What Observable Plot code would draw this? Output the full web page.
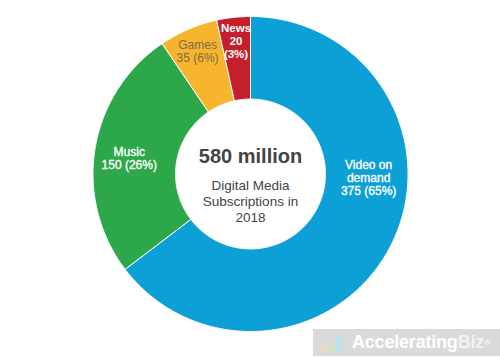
<!DOCTYPE html>
<html>
<head>
<meta charset="utf-8">
<script src="https://cdn.jsdelivr.net/npm/d3@7"></script>
<script src="https://cdn.jsdelivr.net/npm/@observablehq/plot@0.6"></script>
<style>
  html, body { margin: 0; padding: 0; background: #fff; }
  #chart { position: relative; width: 500px; height: 357px; overflow: hidden;
           font-family: "Liberation Sans", Arial, Helvetica, sans-serif; }
  #chart svg { display: block; }
  .brand { position: absolute; left: 313px; top: 329px; width: 187px; height: 27px;
           background: #dadada; display: flex; align-items: center; box-sizing: border-box;
           padding-left: 9px; color: #fff; font-weight: bold; font-size: 18px; letter-spacing: -0.2px; }
  .brand .icon { position: relative; width: 24px; height: 17px; margin-right: 6px; }
  .brand .icon span { position: absolute; bottom: 0; width: 6px; }
  .brand .biz { color: rgba(255,255,255,0.7); }
  .brand sup { font-size: 8px; font-weight: normal; vertical-align: 9px; margin-left: 1px; }
</style>
</head>
<body>
<div id="chart"></div>
<script>
// Digital media subscriptions in 2018, millions
const categories = ["Video on demand", "Music", "Games", "News"];
const labelNames = ["Video on\ndemand", "Music", "Games", "News"];
const subscriptions = [375, 150, 35, 20];
const sliceColors = ["#0ca0d6", "#2ca84a", "#f7b52e", "#c41f2b"];
const labelColors = ["#ffffff", "#ffffff", "#7a6b4b", "#ffffff"];
const centerUnit = "million";
const centerSubtitle = "Digital Media\nSubscriptions in\n2018";

const total = d3.sum(subscriptions);
const slices = categories.map((name, i) => ({name, value: subscriptions[i], i}));
const arcs = d3.pie().sort(null).value(d => d.value)(slices);

// Donut geometry in unit-circle coordinates (outer radius = 1)
const RO = 1, RI = 0.476;
const pt = (name, a, r) => ({slice: name, x: Math.sin(a) * r, y: Math.cos(a) * r});

const ring = [];
for (const arc of arcs) {
  const {startAngle: a0, endAngle: a1} = arc;
  const n = Math.max(2, Math.ceil((a1 - a0) / (Math.PI / 360)));
  const name = arc.data.name;
  for (let k = 0; k <= n; ++k) ring.push(pt(name, a0 + (a1 - a0) * k / n, RO));
  for (let k = n; k >= 0; --k) ring.push(pt(name, a0 + (a1 - a0) * k / n, RI));
  ring.push(pt(name, a0, RO));
}

// Slice labels: the dominant slice is labelled on its right flank, small slices near the rim
const labels = arcs.map(arc => {
  const {i, value} = arc.data;
  const share = value / total;
  const pct = Math.round(share * 100);
  const mid = share > 0.5 ? Math.PI / 2 : (arc.startAngle + arc.endAngle) / 2;
  const r = share < 0.1 ? 0.85 : share > 0.5 ? 0.75 : 0.78;
  const sep = share < 0.05 ? "\n" : " ";
  return {
    x: Math.sin(mid) * r,
    y: Math.cos(mid) * r,
    text: `${labelNames[i]}\n${value}${sep}(${pct}%)`,
    color: labelColors[i],
    small: share < 0.05,
    light: share < 0.1
  };
});

const cx = 250, cy = 173.5, R = 157.5;

const chart = Plot.plot({
  width: 500,
  height: 357,
  margin: 0,
  style: {background: "#fff", fontFamily: "'Liberation Sans', Arial, Helvetica, sans-serif"},
  x: {type: "linear", domain: [-1, 1], range: [cx - R, cx + R], axis: null},
  y: {type: "linear", domain: [-1, 1], range: [cy + R, cy - R], axis: null},
  color: {domain: categories, range: sliceColors},
  marks: [
    Plot.line(ring, {x: "x", y: "y", z: "slice", fill: "slice", stroke: "#fff", strokeWidth: 1, curve: "linear"}),
    ...labels.map(l => Plot.text([l], {
      x: "x", y: "y", text: "text",
      fill: l.color,
      stroke: l.light ? "none" : l.color,
      strokeWidth: 0.35,
      fontSize: l.small ? 11.5 : 12,
      fontWeight: l.small ? "bold" : "normal",
      lineHeight: 1.1,
      dy: l.light ? 0 : 4,
      textAnchor: "middle"
    })),
    Plot.text([{x: 0, y: 0}], {
      x: "x", y: "y", text: () => `${total} ${centerUnit}`,
      dy: -17, fontSize: 20, fontWeight: "bold", fill: "#444", textAnchor: "middle"
    }),
    Plot.text([{x: 0, y: 0}], {
      x: "x", y: "y", text: () => centerSubtitle,
      dy: 27, fontSize: 13.5, lineHeight: 1.18, fill: "#444", textAnchor: "middle"
    })
  ]
});

const root = document.getElementById("chart");
root.appendChild(chart);

// Brand badge in the lower right corner
const brand = document.createElement("div");
brand.className = "brand";
brand.innerHTML =
  '<div class="icon">' +
  '<span style="left:0;height:5px;background:#f3d9b8"></span>' +
  '<span style="left:7px;height:9px;background:#cfe6c4"></span>' +
  '<span style="left:14px;height:16px;background:#bfe0ef"></span>' +
  '</div>Accelerating<span class="biz">Biz</span><sup>®</sup>';
root.appendChild(brand);
</script>
</body>
</html>
